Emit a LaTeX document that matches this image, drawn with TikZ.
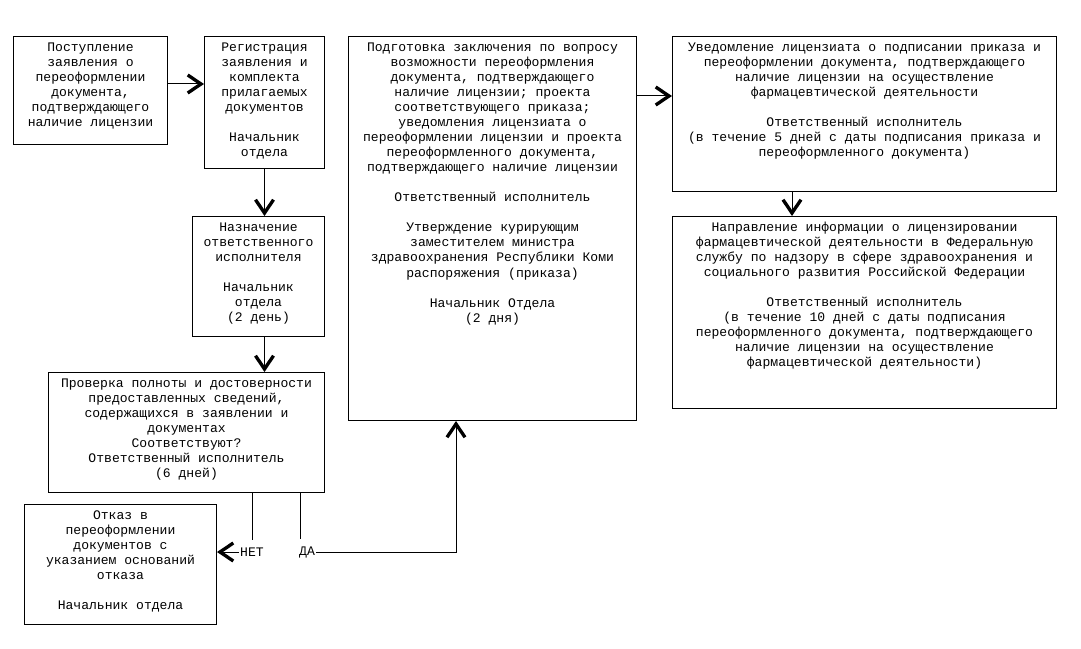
\documentclass[tikz,border=0pt]{standalone}
\usepackage{fontspec}
\setmainfont{Liberation Mono}
\usetikzlibrary{arrows.meta,calc}

\newcommand{\boxtxt}[3]{\parbox[t][\dimexpr#2-6pt\relax][t]{\dimexpr#1-6pt\relax}{\centering\strut #3}}

\tikzset{every picture/.style={line width=0.75pt}}
\tikzset{
  stepbox/.style={draw, anchor=north west, inner sep=3pt, font=\fontsize{9.8}{11.3}\selectfont},
  answer/.style={inner sep=0.75pt, font=\fontsize{9.8}{11.3}\selectfont},
  flowarrow/.style={-{Straight Barb[length=10pt,width=13.5pt,line width=2.5pt]}}
}

\begin{document}
\begin{tikzpicture}[x=0.75pt,y=0.75pt,yscale=-1,xscale=1]
	\useasboundingbox (0,0) rectangle (1081,649);
	
	%Shape: Rectangle [receipt]
	\node [stepbox] (receipt) at (13,36) {\boxtxt{115.5pt}{81pt}{Поступление\\ заявления о\\ переоформлении\\ документа,\\ подтверждающего\\ наличие лицензии}};
	%Shape: Rectangle [reg]
	\node [stepbox] (reg) at (204,36) {\boxtxt{90pt}{99pt}{Регистрация\\ заявления и\\ комплекта\\ прилагаемых\\ документов\\[\baselineskip] Начальник\\ отдела}};
	%Shape: Rectangle [assign]
	\node [stepbox] (assign) at (192,216) {\boxtxt{99pt}{90pt}{Назначение\\ ответственного\\ исполнителя\\[\baselineskip] Начальник\\ отдела\\ (2 день)}};
	%Shape: Rectangle [check]
	\node [stepbox] (check) at (48,372) {\boxtxt{207pt}{90pt}{Проверка полноты и достоверности\\ предоставленных сведений,\\ содержащихся в заявлении и\\ документах\\ Соответствуют?\\ Ответственный исполнитель\\ (6 дней)}};
	%Shape: Rectangle [refuse]
	\node [stepbox] (refuse) at (24,504) {\boxtxt{144pt}{90pt}{Отказ в\\ переоформлении\\ документов с\\ указанием оснований\\ отказа\\[\baselineskip] Начальник отдела}};
	%Shape: Rectangle [prep]
	\node [stepbox] (prep) at (348,36) {\boxtxt{216pt}{288pt}{Подготовка заключения по вопросу\\ возможности переоформления\\ документа, подтверждающего\\ наличие лицензии; проекта\\ соответствующего приказа;\\ уведомления лицензиата о\\ переоформлении лицензии и проекта\\ переоформленного документа,\\ подтверждающего наличие лицензии\\[\baselineskip] Ответственный исполнитель\\[\baselineskip] Утверждение курирующим\\ заместителем министра\\ здравоохранения Республики Коми\\ распоряжения (приказа)\\[\baselineskip] Начальник Отдела\\ (2 дня)}};
	%Shape: Rectangle [notify]
	\node [stepbox] (notify) at (672,36) {\boxtxt{288pt}{116.25pt}{Уведомление лицензиата о подписании приказа и\\ переоформлении документа, подтверждающего\\ наличие лицензии на осуществление\\ фармацевтической деятельности\\[\baselineskip] Ответственный исполнитель\\ (в течение 5 дней с даты подписания приказа и\\ переоформленного документа)}};
	%Shape: Rectangle [inform]
	\node [stepbox] (inform) at (672,216) {\boxtxt{288pt}{144pt}{Направление информации о лицензировании\\ фармацевтической деятельности в Федеральную\\ службу по надзору в сфере здравоохранения и\\ социального развития Российской Федерации\\[\baselineskip] Ответственный исполнитель\\ (в течение 10 дней с даты подписания\\ переоформленного документа, подтверждающего\\ наличие лицензии на осуществление\\ фармацевтической деятельности)}};
	
	% Text Node
	\node [answer] (no) at (252,552) {НЕТ};
	% Text Node
	\node [answer] (yes) at (307,552) {ДА};
	
	%Straight Lines
	\coordinate (ab) at ($(receipt.north east)+(0,48)$);
	\draw [flowarrow] (ab) -- (ab -| reg.west);
	%Straight Lines
	\draw [flowarrow] (reg.south) -- (reg.south |- assign.north);
	%Straight Lines
	\draw [flowarrow] (assign.south -| reg.south) -- (check.north -| reg.south);
	%Straight Lines
	\draw (check.south -| no.north) -- ($(no.north)+(0,-6)$);
	\coordinate (yesdown) at ($(yes.north west)+(3,-6)$);
	\draw (check.south -| yesdown) -- (yesdown);
	%Straight Lines
	\draw [flowarrow] (no.west) -- (no.west -| refuse.east);
	%Straight Lines
	\coordinate (yesup) at ($(prep.south west)+(108,0)$);
	\draw [flowarrow] (yes.east) -| (yesup);
	%Straight Lines
	\coordinate (ef) at ($(prep.north east)+(0,60)$);
	\draw [flowarrow] (ef) -- (ef -| notify.west);
	%Straight Lines
	\coordinate (fg) at ($(notify.south west)+(120,0)$);
	\draw [flowarrow] (fg) -- (fg |- inform.north);
	
\end{tikzpicture}
\end{document}
